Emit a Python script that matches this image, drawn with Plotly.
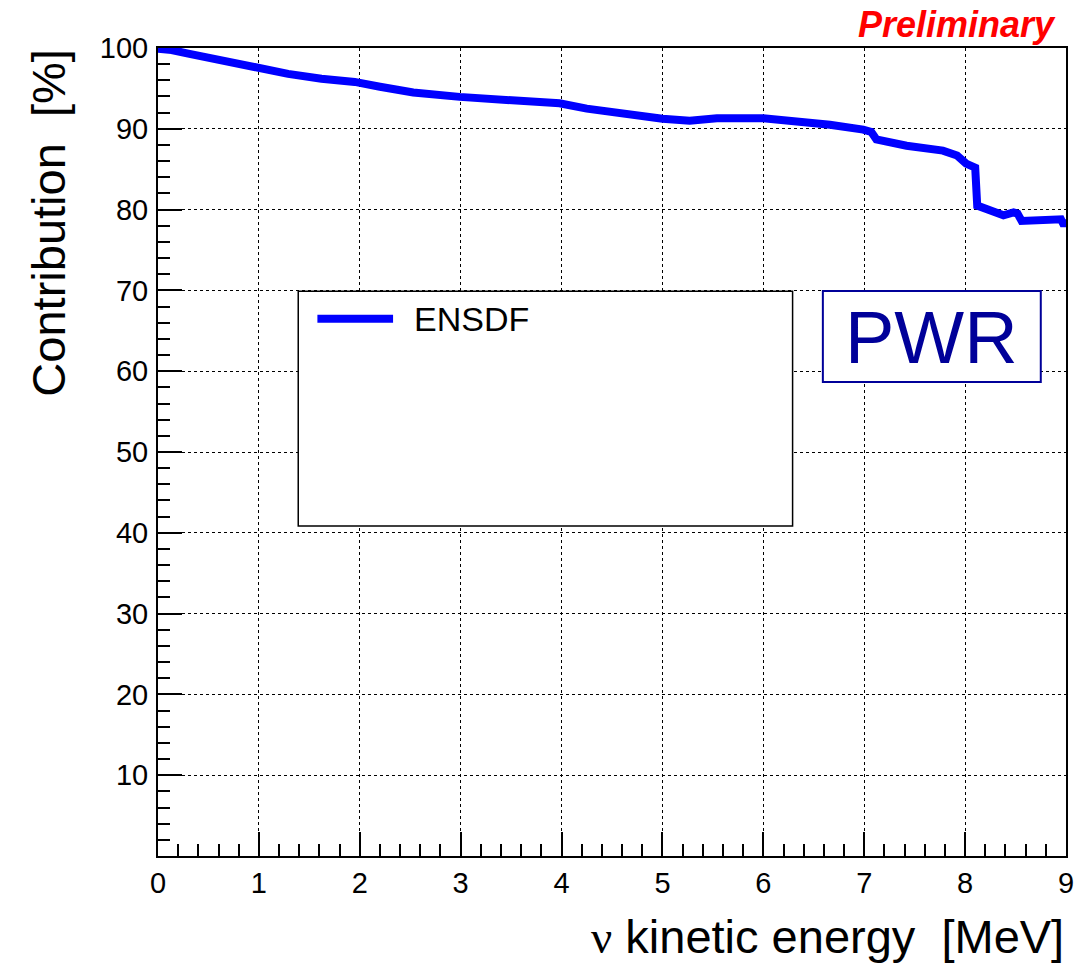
import plotly.graph_objects as go

# Data
energy = [0.0, 0.135, 0.30, 0.63, 0.96, 1.29, 1.62, 1.95, 2.2, 2.53, 2.99, 3.52, 3.98, 4.25,
          4.38, 4.48, 4.71, 5.0, 5.27, 5.54, 6.0, 6.36, 6.66, 6.99, 7.07, 7.12, 7.42, 7.78,
          7.92, 8.01, 8.08, 8.1, 8.12, 8.25, 8.38, 8.48, 8.52, 8.56, 8.77, 8.95, 8.97, 9.0]
contribution = [99.9, 99.75, 99.3, 98.4, 97.6, 96.8, 96.2, 95.8, 95.2, 94.5, 93.95, 93.6, 93.15,
                92.5, 92.3, 92.1, 91.6, 91.25, 91.0, 91.3, 91.3, 90.9, 90.5, 89.9, 89.6, 88.7,
                87.9, 87.3, 86.7, 85.7, 85.4, 85.2, 80.5, 79.85, 79.3, 79.65, 79.5, 78.6, 78.8,
                78.8, 78.3, 78.3]

x_ticks = list(range(0, 10))
y_ticks = list(range(10, 101, 10))

FONT = "Liberation Sans, Arial, Helvetica, sans-serif"

fig = go.Figure()
fig.add_trace(go.Scatter(x=energy, y=contribution, mode="lines", line_shape="linear",
                         line=dict(color="#0000ff", width=8), name="ENSDF", showlegend=False))

fig.update_layout(
    width=1078, height=963,
    margin=dict(l=158, r=12, t=48, b=107, autoexpand=False),
    paper_bgcolor="white", plot_bgcolor="white",
    font=dict(family=FONT, color="black"),
    xaxis=dict(range=[0, 9], tickvals=x_ticks, ticks="inside", ticklen=24, tickwidth=1.5,
               tickcolor="black", showline=True, linecolor="black", linewidth=2, mirror=True,
               showgrid=True, gridcolor="black", griddash="dot", gridwidth=1, automargin=False,
               tickfont=dict(size=29, family=FONT), zeroline=False,
               minor=dict(dtick=0.2, ticks="inside", ticklen=12, tickwidth=1.5,
                          tickcolor="black", showgrid=False)),
    yaxis=dict(range=[0, 100], tickvals=y_ticks, ticks="inside", ticklen=24, tickwidth=1.5,
               tickcolor="black", showline=True, linecolor="black", linewidth=2, mirror=True,
               showgrid=True, gridcolor="black", griddash="dot", gridwidth=1, automargin=False,
               tickfont=dict(size=29, family=FONT), zeroline=False, ticklabelstandoff=2,
               minor=dict(dtick=2, ticks="inside", ticklen=12, tickwidth=1.5,
                          tickcolor="black", showgrid=False)),
)

# Legend box (ROOT style)
fig.add_shape(type="rect", xref="x", yref="y", x0=1.39, x1=6.29, y0=40.85, y1=69.9,
              line=dict(color="black", width=1.5), fillcolor="white", layer="above")
fig.add_shape(type="line", xref="x", yref="y", x0=1.58, x1=2.33, y0=66.5, y1=66.5,
              line=dict(color="#0000ff", width=8), layer="above")
fig.add_annotation(x=2.52, y=66.5, xref="x", yref="y", text="ENSDF", showarrow=False,
                   xanchor="left", yanchor="middle", font=dict(size=34, family=FONT, color="black"))

# PWR box
fig.add_shape(type="rect", xref="x", yref="y", x0=6.59, x1=8.75, y0=58.66, y1=69.93,
              line=dict(color="#000099", width=2), fillcolor="white", layer="above")
fig.add_annotation(x=7.67, y=64.2, xref="x", yref="y", text="PWR", showarrow=False,
                   xanchor="center", yanchor="middle", font=dict(size=74, family=FONT, color="#000099"))

# Preliminary
fig.add_annotation(x=0.991, y=1.029, xref="paper", yref="paper",
                   text="<b><i>Preliminary</i></b>", showarrow=False,
                   xanchor="right", yanchor="middle", font=dict(size=36, family=FONT, color="#ff0000"))

# Axis titles
fig.add_annotation(x=1.0, y=-0.1, xref="paper", yref="paper",
                   text="<span style='font-family:Liberation Serif'>ν</span> kinetic energy  [MeV]",
                   showarrow=False, xanchor="right", yanchor="middle",
                   font=dict(size=47, family=FONT, color="black"))
fig.add_annotation(x=-0.121, y=1.0, xref="paper", yref="paper",
                   text="Contribution  [%]", textangle=-90,
                   showarrow=False, xanchor="center", yanchor="top",
                   font=dict(size=47, family=FONT, color="black"))

fig.write_html("out.html")
